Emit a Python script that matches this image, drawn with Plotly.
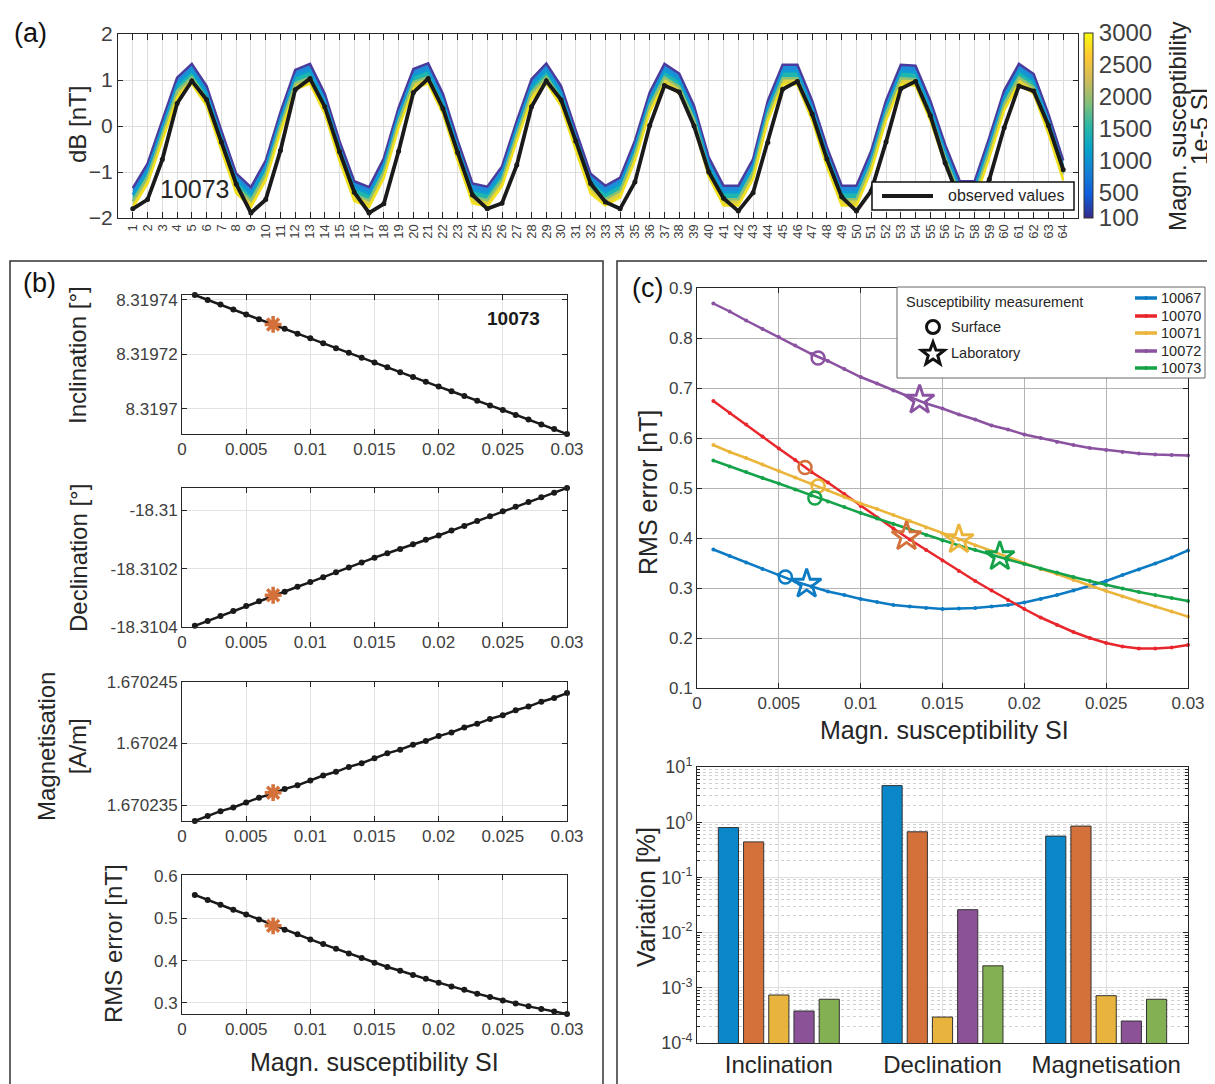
import math
import plotly.graph_objects as go

W, H = 1215, 1084
OFF = 8  # page body margin in the browser
FONT = "Liberation Sans, Arial, Helvetica, sans-serif"

# ------------------------------------------------------------------ data
# (a) profile positions and dB values
TRACE_NO = list(range(1, 65))
OBS = [-1.80, -1.60, -0.73, 0.49, 0.98, 0.57, -0.35, -1.26,
       -1.89, -1.60, -0.53, 0.79, 1.03, 0.42, -0.56, -1.44,
       -1.89, -1.69, -0.55, 0.73, 1.03, 0.38, -0.58, -1.50,
       -1.80, -1.68, -0.85, 0.42, 0.98, 0.57, -0.33, -1.25,
       -1.65, -1.80, -1.22, 0.01, 0.88, 0.74, 0.00, -1.00,
       -1.57, -1.85, -1.45, -0.36, 0.80, 0.97, 0.26, -0.72,
       -1.54, -1.85, -1.41, -0.35, 0.81, 0.97, 0.23, -0.80,
       -1.62, -1.78, -1.16, -0.04, 0.87, 0.76, 0.01, -0.95]
MODEL_K100 = [-1.35, -0.82, 0.12, 1.05, 1.35, 0.87, -0.10, -1.03,
              -1.33, -0.75, 0.30, 1.22, 1.35, 0.70, -0.33, -1.20,
              -1.33, -0.70, 0.40, 1.24, 1.36, 0.70, -0.32, -1.25,
              -1.32, -0.88, 0.11, 1.02, 1.36, 0.87, -0.10, -1.04,
              -1.30, -1.12, -0.32, 0.73, 1.35, 1.14, 0.44, -0.68,
              -1.30, -1.30, -0.72, 0.55, 1.33, 1.33, 0.55, -0.46,
              -1.30, -1.30, -0.54, 0.55, 1.33, 1.31, 0.55, -0.40,
              -1.20, -1.20, -0.25, 0.77, 1.35, 1.13, 0.26, -0.75]
MODEL_K1000 = [-1.49, -0.96, -0.02, 0.91, 1.21, 0.73, -0.24, -1.17,
               -1.47, -0.89, 0.16, 1.08, 1.21, 0.56, -0.47, -1.34,
               -1.47, -0.84, 0.26, 1.10, 1.22, 0.56, -0.46, -1.39,
               -1.46, -1.02, -0.03, 0.88, 1.22, 0.73, -0.24, -1.18,
               -1.44, -1.26, -0.46, 0.59, 1.21, 1.00, 0.30, -0.82,
               -1.44, -1.44, -0.86, 0.41, 1.19, 1.19, 0.41, -0.60,
               -1.44, -1.44, -0.68, 0.41, 1.19, 1.17, 0.41, -0.54,
               -1.34, -1.34, -0.39, 0.63, 1.21, 0.99, 0.12, -0.89]
MODEL_K2000 = [-1.64, -1.11, -0.17, 0.76, 1.06, 0.58, -0.39, -1.32,
               -1.62, -1.04, 0.01, 0.93, 1.06, 0.41, -0.62, -1.49,
               -1.62, -0.99, 0.11, 0.95, 1.07, 0.41, -0.61, -1.54,
               -1.61, -1.17, -0.18, 0.73, 1.07, 0.58, -0.39, -1.33,
               -1.59, -1.41, -0.61, 0.44, 1.06, 0.85, 0.15, -0.97,
               -1.59, -1.59, -1.01, 0.26, 1.04, 1.04, 0.26, -0.75,
               -1.59, -1.59, -0.83, 0.26, 1.04, 1.02, 0.26, -0.69,
               -1.49, -1.49, -0.54, 0.48, 1.06, 0.84, -0.03, -1.04]
MODEL_K3000 = [-1.78, -1.25, -0.31, 0.62, 0.92, 0.44, -0.53, -1.46,
               -1.76, -1.18, -0.13, 0.79, 0.92, 0.27, -0.76, -1.63,
               -1.76, -1.13, -0.03, 0.81, 0.93, 0.27, -0.75, -1.68,
               -1.75, -1.31, -0.32, 0.59, 0.93, 0.44, -0.53, -1.47,
               -1.73, -1.55, -0.75, 0.30, 0.92, 0.71, 0.01, -1.11,
               -1.73, -1.73, -1.15, 0.12, 0.90, 0.90, 0.12, -0.89,
               -1.73, -1.73, -0.97, 0.12, 0.90, 0.88, 0.12, -0.83,
               -1.63, -1.63, -0.68, 0.34, 0.92, 0.70, -0.17, -1.18]
CBAR_TICKS = [100, 500, 1000, 1500, 2000, 2500, 3000]

# (b) / (c) susceptibility grid
SUSC = [0.001, 0.002, 0.003, 0.004, 0.005, 0.006, 0.007, 0.008, 0.009, 0.010,
        0.011, 0.012, 0.013, 0.014, 0.015, 0.016, 0.017, 0.018, 0.019, 0.020,
        0.021, 0.022, 0.023, 0.024, 0.025, 0.026, 0.027, 0.028, 0.029, 0.030]
INCL = [8.3197418, 8.3197400, 8.3197383, 8.3197365, 8.3197346, 8.3197329,
        8.3197311, 8.3197294, 8.3197276, 8.3197259, 8.3197241, 8.3197223,
        8.3197206, 8.3197188, 8.3197170, 8.3197153, 8.3197135, 8.3197117,
        8.3197100, 8.3197082, 8.3197065, 8.3197047, 8.3197030, 8.3197013,
        8.3196996, 8.3196978, 8.3196961, 8.3196943, 8.3196926, 8.3196908]
DECL = [-18.310396, -18.310379, -18.310362, -18.310345, -18.310328, -18.310312,
        -18.310295, -18.310279, -18.310262, -18.310246, -18.310229, -18.310212,
        -18.310196, -18.310179, -18.310162, -18.310147, -18.310132, -18.310116,
        -18.310101, -18.310086, -18.310069, -18.310053, -18.310036, -18.310020,
        -18.310003, -18.309987, -18.309971, -18.309955, -18.309939, -18.309923]
MAGN = [1.6702337, 1.6702341, 1.6702345, 1.6702348, 1.6702352, 1.6702356,
        1.6702359, 1.6702363, 1.6702366, 1.6702370, 1.6702374, 1.6702377,
        1.6702381, 1.6702384, 1.6702388, 1.6702392, 1.6702395, 1.6702399,
        1.6702402, 1.6702406, 1.6702409, 1.6702413, 1.6702416, 1.6702420,
        1.6702423, 1.6702427, 1.6702430, 1.6702434, 1.6702437, 1.6702441]
RMS_10067 = [0.377, 0.364, 0.351, 0.338, 0.326, 0.313, 0.303, 0.293, 0.286, 0.278,
             0.272, 0.266, 0.263, 0.260, 0.258, 0.259, 0.260, 0.263, 0.266, 0.271,
             0.278, 0.286, 0.295, 0.305, 0.314, 0.326, 0.337, 0.349, 0.361, 0.375]
RMS_10070 = [0.674, 0.650, 0.627, 0.603, 0.579, 0.556, 0.532, 0.511, 0.488, 0.464,
             0.441, 0.419, 0.397, 0.376, 0.355, 0.334, 0.314, 0.295, 0.276, 0.258,
             0.241, 0.226, 0.212, 0.200, 0.190, 0.183, 0.179, 0.179, 0.181, 0.186]
RMS_10071 = [0.586, 0.572, 0.560, 0.547, 0.534, 0.521, 0.509, 0.496, 0.482, 0.469,
             0.458, 0.446, 0.434, 0.421, 0.409, 0.397, 0.385, 0.373, 0.361, 0.349,
             0.338, 0.328, 0.316, 0.305, 0.294, 0.283, 0.273, 0.263, 0.253, 0.243]
RMS_10072 = [0.869, 0.853, 0.835, 0.818, 0.802, 0.785, 0.768, 0.754, 0.738, 0.722,
             0.709, 0.695, 0.682, 0.669, 0.659, 0.647, 0.637, 0.625, 0.617, 0.607,
             0.600, 0.592, 0.586, 0.580, 0.576, 0.572, 0.569, 0.567, 0.566, 0.565]
RMS_10073 = [0.555, 0.543, 0.532, 0.520, 0.509, 0.497, 0.485, 0.473, 0.462, 0.450,
             0.439, 0.428, 0.417, 0.406, 0.395, 0.385, 0.376, 0.366, 0.357, 0.348,
             0.339, 0.331, 0.322, 0.314, 0.306, 0.299, 0.292, 0.286, 0.280, 0.274]
# chosen (surface) susceptibility for 10073 in panel (b)
SEL_SUSC = 0.0071
SEL_INCL = 8.3197310
SEL_DECL = -18.310291
SEL_MAGN = 1.6702360
SEL_RMS = 0.482

STATIONS = ["10067", "10070", "10071", "10072", "10073"]
SURF_X = [0.0054, 0.0066, 0.0074, 0.0074, 0.0072]
SURF_Y = [0.322, 0.541, 0.504, 0.760, 0.480]
LAB_X = [0.0067, 0.0128, 0.0160, 0.0136, 0.0185]
LAB_Y = [0.308, 0.403, 0.397, 0.676, 0.363]

# bar chart: variation [%]
PARAMS = ["Inclination", "Declination", "Magnetisation"]
VAR_10067 = [0.80, 4.6, 0.56]
VAR_10070 = [0.44, 0.67, 0.85]
VAR_10071 = [7.4e-4, 2.95e-4, 7.2e-4]
VAR_10072 = [3.8e-4, 0.026, 2.5e-4]
VAR_10073 = [6.2e-4, 2.5e-3, 6.2e-4]

# ------------------------------------------------------------------ styles
PARULA = [[0.0, "#352A87"], [0.125, "#0F5CDD"], [0.25, "#1481D6"],
          [0.375, "#06A4CA"], [0.5, "#2EB7A4"], [0.625, "#87BF77"],
          [0.75, "#D1BB59"], [0.875, "#FEC832"], [1.0, "#F9FB0E"]]
LINE_COLS = ["#0C7BC4", "#E8262B", "#EBB53C", "#8A52A0", "#15A34A"]
MARK_COLS = ["#0C7BC4", "#D4703A", "#EBB53C", "#8A52A0", "#15A34A"]
BAR_COLS = ["#0A87C8", "#D4703A", "#E9B43D", "#8B5298", "#83B052"]
TICK_COL = "#404040"
AX_COL = "#262626"


def px(x):
    return (x - OFF) / W


def py(y):
    return 1 - (y - OFF) / H


def dom_x(l, r):
    return [px(l), px(r)]


def dom_y(top, bottom):
    return [py(bottom), py(top)]


def axis(**kw):
    base = dict(showline=True, linecolor=AX_COL, linewidth=1, mirror="ticks",
                ticks="inside", ticklen=5, tickcolor=AX_COL, showgrid=True,
                gridcolor="#e3e3e3", gridwidth=1, zeroline=False, automargin=False,
                tickfont=dict(size=17, color=TICK_COL, family=FONT))
    base.update(kw)
    return base


fig = go.Figure()

# ------------------------------------------------------------------ (a)
band = [(MODEL_K100, "#4A3C9E", None, None),
        (MODEL_K1000, "#0E9AD2", "tonexty", "#1E8CD8"),
        (MODEL_K2000, "#8CC075", "tonexty", "#1EB6AE"),
        (MODEL_K3000, "#F1E01E", "tonexty", "#DDD040")]
for vals, lc, fill, fc in band:
    fig.add_trace(go.Scatter(x=TRACE_NO, y=vals, mode="lines",
                             line=dict(color=lc, width=2.5),
                             fill=fill, fillcolor=fc,
                             xaxis="x", yaxis="y", showlegend=False,
                             hoverinfo="skip"))

fig.add_trace(go.Scatter(
    x=[-10, -10], y=[0, 0], mode="markers",
    marker=dict(size=1, color=[CBAR_TICKS[0], CBAR_TICKS[-1]], cmin=100, cmax=3000,
                colorscale=PARULA, showscale=True,
                colorbar=dict(x=px(1084), xanchor="left", xpad=0,
                              y=py(125.5), yanchor="middle", ypad=0,
                              lenmode="pixels", len=185, thickness=9,
                              outlinewidth=1, outlinecolor="#333333",
                              tickvals=CBAR_TICKS, ticks="",
                              tickfont=dict(size=24, color=TICK_COL, family=FONT))),
    xaxis="x", yaxis="y", showlegend=False, hoverinfo="skip"))

fig.add_trace(go.Scatter(x=TRACE_NO, y=OBS, mode="lines+markers",
                         line=dict(color="#1a1a1a", width=3.8),
                         marker=dict(color="#1a1a1a", size=5),
                         xaxis="x", yaxis="y", showlegend=False))

# ------------------------------------------------------------------ (b)
b_series = [(INCL, SEL_INCL, "2"), (DECL, SEL_DECL, "3"),
            (MAGN, SEL_MAGN, "4"), (RMS_10073, SEL_RMS, "5")]
for vals, sel, n in b_series:
    fig.add_trace(go.Scatter(x=SUSC, y=vals, mode="lines+markers",
                             line=dict(color="#1a1a1a", width=2.5),
                             marker=dict(color="#1a1a1a", size=6),
                             cliponaxis=False,
                             xaxis="x" + n, yaxis="y" + n, showlegend=False))
    fig.add_trace(go.Scatter(x=[SEL_SUSC], y=[sel], mode="markers",
                             marker=dict(symbol="asterisk-open", size=14,
                                         color="#D4703A",
                                         line=dict(color="#D4703A", width=3.5)),
                             cliponaxis=False,
                             xaxis="x" + n, yaxis="y" + n, showlegend=False))

# ------------------------------------------------------------------ (c) top
rms_all = [RMS_10067, RMS_10070, RMS_10071, RMS_10072, RMS_10073]
for i, st in enumerate(STATIONS):
    fig.add_trace(go.Scatter(x=SUSC, y=rms_all[i], mode="lines+markers", name=st,
                             line=dict(color=LINE_COLS[i], width=2.5),
                             marker=dict(color=LINE_COLS[i], size=4),
                             cliponaxis=False,
                             xaxis="x6", yaxis="y6", showlegend=False))
for i, st in enumerate(STATIONS):
    fig.add_trace(go.Scatter(x=[SURF_X[i]], y=[SURF_Y[i]], mode="markers",
                             marker=dict(symbol="circle-open", size=13,
                                         color=MARK_COLS[i],
                                         line=dict(color=MARK_COLS[i], width=2.5)),
                             xaxis="x6", yaxis="y6", showlegend=False))
    fig.add_trace(go.Scatter(x=[LAB_X[i]], y=[LAB_Y[i]], mode="markers",
                             marker=dict(symbol="star-open", size=22,
                                         color=MARK_COLS[i],
                                         line=dict(color=MARK_COLS[i], width=2.8)),
                             xaxis="x6", yaxis="y6", showlegend=False))

# ------------------------------------------------------------------ (c) bars
var_all = [VAR_10067, VAR_10070, VAR_10071, VAR_10072, VAR_10073]
for i, st in enumerate(STATIONS):
    fig.add_trace(go.Bar(x=PARAMS, y=var_all[i], name=st,
                         marker=dict(color=BAR_COLS[i],
                                     line=dict(color="#333333", width=1)),
                         xaxis="x7", yaxis="y7", showlegend=False))

# ------------------------------------------------------------------ layout
SUSC_TICKS = [0, 0.005, 0.01, 0.015, 0.02, 0.025, 0.03]
SUSC_TEXT = ["0", "0.005", "0.01", "0.015", "0.02", "0.025", "0.03"]
LOG_TICKS = [1e-4, 1e-3, 1e-2, 1e-1, 1e0, 1e1]
LOG_TEXT = ["10<sup>-4</sup>", "10<sup>-3</sup>", "10<sup>-2</sup>",
            "10<sup>-1</sup>", "10<sup>0</sup>", "10<sup>1</sup>"]
LOG_MINOR = [m * 10.0 ** e for e in range(-4, 1) for m in range(2, 10)]

layout = dict(
    template="none",
    width=W, height=H, autosize=False,
    margin=dict(l=0, r=0, t=0, b=0, pad=0),
    paper_bgcolor="white", plot_bgcolor="white",
    font=dict(family=FONT, color=AX_COL),
    showlegend=False,
    barmode="group", bargap=0.23, bargroupgap=0.2,
    xaxis=axis(domain=dom_x(118, 1078), range=[0, 65], tickvals=TRACE_NO,
               tickangle=-90, ticklen=6, gridcolor="#dedede",
               tickfont=dict(size=13, color=TICK_COL, family=FONT), anchor="y"),
    yaxis=axis(domain=dom_y(34, 218), range=[-2, 2], dtick=1, gridcolor="#dedede",
               tickfont=dict(size=21, color=TICK_COL, family=FONT), anchor="x"),
    xaxis2=axis(domain=dom_x(182, 567), range=[0, 0.03], tickvals=SUSC_TICKS,
                ticktext=SUSC_TEXT, anchor="y2"),
    yaxis2=axis(domain=dom_y(295, 434), range=[8.3196908, 8.3197418],
                tickvals=[8.3197, 8.31972, 8.31974],
                ticktext=["8.3197", "8.31972", "8.31974"], anchor="x2"),
    xaxis3=axis(domain=dom_x(182, 567), range=[0, 0.03], tickvals=SUSC_TICKS,
                ticktext=SUSC_TEXT, anchor="y3"),
    yaxis3=axis(domain=dom_y(488, 627), range=[-18.3104, -18.309923],
                tickvals=[-18.3104, -18.3102, -18.31],
                ticktext=["-18.3104", "-18.3102", "-18.31"], anchor="x3"),
    xaxis4=axis(domain=dom_x(182, 567), range=[0, 0.03], tickvals=SUSC_TICKS,
                ticktext=SUSC_TEXT, anchor="y4"),
    yaxis4=axis(domain=dom_y(682, 821), range=[1.6702337, 1.670245],
                tickvals=[1.670235, 1.67024, 1.670245],
                ticktext=["1.670235", "1.67024", "1.670245"], anchor="x4"),
    xaxis5=axis(domain=dom_x(182, 567), range=[0, 0.03], tickvals=SUSC_TICKS,
                ticktext=SUSC_TEXT, anchor="y5"),
    yaxis5=axis(domain=dom_y(875, 1014), range=[0.274, 0.602],
                tickvals=[0.3, 0.4, 0.5, 0.6], ticktext=["0.3", "0.4", "0.5", "0.6"],
                anchor="x5"),
    xaxis6=axis(domain=dom_x(697, 1188), range=[0, 0.03], tickvals=SUSC_TICKS,
                ticktext=SUSC_TEXT, gridcolor="#b4b4b4", anchor="y6"),
    yaxis6=axis(domain=dom_y(288, 688), range=[0.1, 0.9],
                tickvals=[0.1, 0.2, 0.3, 0.4, 0.5, 0.6, 0.7, 0.8, 0.9],
                ticktext=["0.1", "0.2", "0.3", "0.4", "0.5", "0.6", "0.7", "0.8", "0.9"],
                gridcolor="#b4b4b4", anchor="x6"),
    xaxis7=axis(domain=dom_x(697, 1188), type="category", ticks="",
                gridcolor="#e0e0e0",
                tickfont=dict(size=24, color=AX_COL, family=FONT), anchor="y7"),
    yaxis7=axis(domain=dom_y(767, 1043), type="log", range=[-4, 1],
                tickvals=LOG_TICKS, ticktext=LOG_TEXT, gridcolor="#dedede",
                tickfont=dict(size=18, color=TICK_COL, family=FONT),
                minor=dict(tickmode="array", tickvals=LOG_MINOR, showgrid=True,
                           gridcolor="#d0d0d0", griddash="dot", ticks="inside",
                           ticklen=3, tickcolor=AX_COL),
                anchor="x7"),
)
fig.update_layout(**layout)

# ------------------------------------------------------------------ shapes
shapes = [
    # panel frames
    dict(type="rect", xref="paper", yref="paper", x0=px(10), x1=px(603),
         y0=py(1110), y1=py(261), line=dict(color="#333333", width=1.5)),
    dict(type="rect", xref="paper", yref="paper", x0=px(617), x1=px(1240),
         y0=py(1110), y1=py(261), line=dict(color="#333333", width=1.5)),
    # legend (a)
    dict(type="rect", xref="paper", yref="paper", x0=px(872), x1=px(1074),
         y0=py(210), y1=py(182), fillcolor="white",
         line=dict(color="#111111", width=1.5), layer="above"),
    dict(type="line", xref="paper", yref="paper", x0=px(882), x1=px(933),
         y0=py(196), y1=py(196), line=dict(color="#1a1a1a", width=4), layer="above"),
    # legend (c) frame
    dict(type="rect", xref="paper", yref="paper", x0=px(897), x1=px(1205),
         y0=py(378), y1=py(287), fillcolor="white",
         line=dict(color="#666666", width=1), layer="above"),
    # legend (c): surface circle glyph
    dict(type="circle", xref="paper", yref="paper", x0=px(926.5), x1=px(939.5),
         y0=py(333.5), y1=py(320.5), line=dict(color="#111111", width=3),
         layer="above"),
]
# legend (c): laboratory star glyph
cx, cy, R, r = 933, 354, 12, 5.0
pts = []
for k in range(10):
    rad = R if k % 2 == 0 else r
    th = math.pi * k / 5
    pts.append((px(cx + rad * math.sin(th)), py(cy - rad * math.cos(th))))
star_path = "M " + " L ".join(f"{a:.5f},{b:.5f}" for a, b in pts) + " Z"
shapes.append(dict(type="path", xref="paper", yref="paper", path=star_path,
                   line=dict(color="#111111", width=3), layer="above"))
# legend (c): station line samples
LEG_ROWS = [298, 316, 333, 351, 368]
for i in range(5):
    shapes.append(dict(type="line", xref="paper", yref="paper", x0=px(1135),
                       x1=px(1157), y0=py(LEG_ROWS[i]), y1=py(LEG_ROWS[i]),
                       line=dict(color=LINE_COLS[i], width=3.5), layer="above"))
    shapes.append(dict(type="circle", xref="paper", yref="paper", x0=px(1144.5),
                       x1=px(1147.5), y0=py(LEG_ROWS[i] + 1.5),
                       y1=py(LEG_ROWS[i] - 1.5), fillcolor=LINE_COLS[i],
                       line=dict(color=LINE_COLS[i], width=1), layer="above"))
fig.update_layout(shapes=shapes)


def ann(text, x, y, size, angle=0, color=AX_COL, bold=False, xanchor="center",
        xref="paper", yref="paper"):
    if bold:
        text = "<b>" + text + "</b>"
    return dict(text=text, x=px(x) if xref == "paper" else x,
                y=py(y) if yref == "paper" else y, xref=xref, yref=yref,
                showarrow=False, textangle=angle, xanchor=xanchor, yanchor="middle",
                font=dict(size=size, color=color, family=FONT))


annotations = [
    ann("(a)", 30, 33, 27, color="#111"),
    ann("(b)", 39, 283, 27, color="#111"),
    ann("(c)", 647, 288, 27, color="#111"),
    ann("dB [nT]", 77, 125, 24, angle=-90),
    ann("Magn. susceptibility", 1177, 127, 24, angle=-90),
    ann("1e-5 SI", 1199, 127, 24, angle=-90),
    ann("10073", 5.2, -1.38, 25, xref="x", yref="y"),
    ann("observed values", 946, 196, 16, xanchor="left"),
    ann("10073", 513, 319, 19, bold=True, color="#1a1a1a"),
    ann("Inclination [°]", 78, 355, 24, angle=-90),
    ann("Declination [°]", 78, 558, 24, angle=-90),
    ann("Magnetisation<br>[A/m]", 62, 747, 24, angle=-90),
    ann("RMS error [nT]", 113, 944, 24, angle=-90),
    ann("Magn. susceptibility SI", 374, 1062, 25),
    ann("RMS error [nT]", 648, 493, 25, angle=-90),
    ann("Magn. susceptibility SI", 944, 730, 25),
    ann("Variation [%]", 646, 897, 25, angle=-90),
    ann("Susceptibility measurement", 904, 302, 14.5, xanchor="left"),
    ann("Surface", 949, 327, 14.5, xanchor="left"),
    ann("Laboratory", 949, 353, 14.5, xanchor="left"),
]
for i, st in enumerate(STATIONS):
    annotations.append(ann(st, 1159, LEG_ROWS[i], 14.5, xanchor="left"))
fig.update_layout(annotations=annotations)

fig.write_html("out.html", include_plotlyjs=True, config={"displayModeBar": False})
